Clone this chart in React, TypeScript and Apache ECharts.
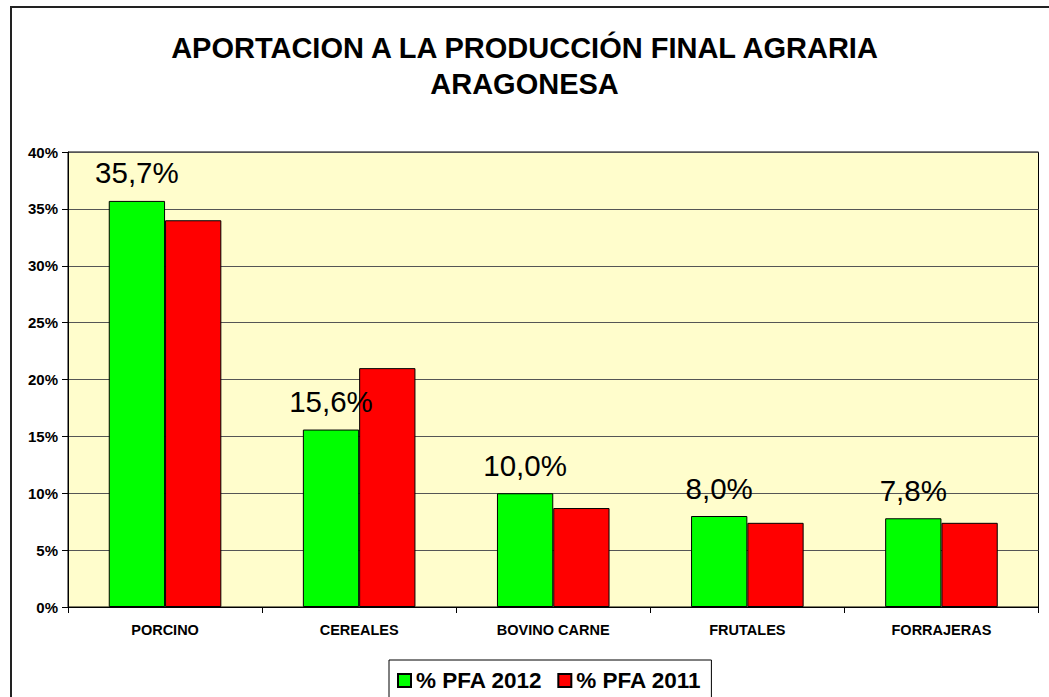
import React, { useEffect, useRef } from "react";
import * as echarts from "echarts";

const categories = ["PORCINO", "CEREALES", "BOVINO CARNE", "FRUTALES", "FORRAJERAS"];
const pfa2012 = [35.7, 15.6, 10.0, 8.0, 7.8];
const pfa2011 = [34.0, 21.0, 8.7, 7.4, 7.4];
const seriesNames = ["% PFA 2012", "% PFA 2011"];

export default function App() {
  const ref = useRef<HTMLDivElement>(null);
  useEffect(() => {
    document.body.style.margin = "0";
    const chart = echarts.init(ref.current!, undefined, { renderer: "svg" });
    const font = "Arial, 'Liberation Sans', sans-serif";
    chart.setOption({
      animation: false,
      backgroundColor: "#ffffff",
      title: {
        text: "APORTACION A LA PRODUCCIÓN FINAL AGRARIA\nARAGONESA",
        left: "center",
        top: 25,
        textStyle: { fontFamily: font, fontSize: 29, fontWeight: "bold", color: "#000", lineHeight: 36 },
      },
      graphic: [
        {
          type: "rect",
          shape: { x: 11, y: 7, width: 1100, height: 800 },
          style: { fill: "none", stroke: "#222", lineWidth: 2 },
          silent: true,
          z: 100,
        },
      ],
      legend: {
        left: 389,
        top: 660,
        itemWidth: 13,
        itemHeight: 13,
        itemGap: 15,
        padding: [9, 10, 12, 8],
        borderColor: "#000",
        borderWidth: 1,
        icon: "rect",
        textStyle: { fontFamily: font, fontSize: 22.5, fontWeight: "bold", color: "#000" },
        data: seriesNames,
      },
      grid: {
        left: 68,
        top: 152,
        right: 10.5,
        bottom: 90,
        show: true,
        backgroundColor: "#FFFDCC",
        borderColor: "#000",
        borderWidth: 1,
      },
      xAxis: {
        type: "category",
        data: categories,
        axisLine: { lineStyle: { color: "#000", width: 1 } },
        axisTick: { show: true, length: 6, lineStyle: { color: "#000" } },
        axisLabel: { fontFamily: font, fontSize: 14.5, fontWeight: "bold", color: "#000", margin: 15 },
      },
      yAxis: {
        type: "value",
        min: 0,
        max: 40,
        interval: 5,
        axisLine: { show: true, lineStyle: { color: "#000", width: 1 } },
        axisTick: { show: true, length: 6, lineStyle: { color: "#000" } },
        axisLabel: { formatter: "{value}%", fontFamily: font, fontSize: 15, fontWeight: "bold", color: "#000", margin: 10 },
        splitLine: { show: true, lineStyle: { color: "#555", width: 1.2 } },
      },
      series: [
        {
          name: seriesNames[0],
          type: "bar",
          data: pfa2012,
          barGap: "0%",
          barCategoryGap: "42%",
          itemStyle: { color: "#00FF00", borderColor: "#000", borderWidth: 1 },
          label: {
            show: true,
            position: "top",
            distance: 13,
            formatter: (p: any) => p.value.toFixed(1).replace(".", ",") + "%",
            fontFamily: font,
            fontSize: 29.5,
            color: "#000",
          },
        },
        {
          name: seriesNames[1],
          type: "bar",
          data: pfa2011,
          barGap: "0%",
          barCategoryGap: "42%",
          itemStyle: { color: "#FF0000", borderColor: "#000", borderWidth: 1 },
        },
      ],
    });
    return () => chart.dispose();
  }, []);
  return <div ref={ref} style={{ width: 1049, height: 697 }} />;
}
